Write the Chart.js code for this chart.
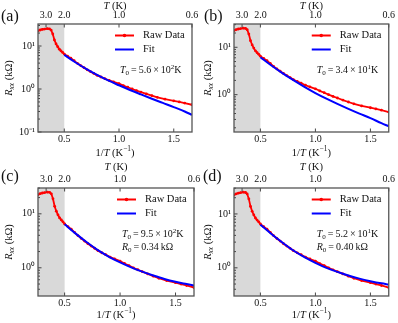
<!DOCTYPE html>
<html><head><meta charset="utf-8">
<script src="https://cdn.jsdelivr.net/npm/chart.js@4.4.1/dist/chart.umd.min.js"></script>
<style>
html,body{margin:0;padding:0;background:#fff;}
#wrap{position:relative;width:398px;height:323px;overflow:hidden;background:#fff;}
canvas{position:absolute;}
</style></head><body>
<div id="wrap">
<canvas id="ca" width="210" height="161" style="left:0;top:0"></canvas>
<canvas id="cc" width="210" height="162" style="left:0;top:161px"></canvas>
<canvas id="cb" width="199" height="161" style="left:199px;top:0"></canvas>
<canvas id="cd" width="199" height="162" style="left:199px;top:161px"></canvas>
</div>
<script>
// ---- data (1/T in K^-1, R_xx in kOhm) ----
const invT = [0.26,0.28,0.30,0.32,0.345,0.365,0.38,0.395,0.41,0.425,0.44,0.455,0.47,0.485,0.50,
  0.53,0.56,0.59,0.62,0.65,0.68,0.71,0.74,0.77,0.80,0.835,0.87,0.91,0.95,1.0,1.04,1.08,1.12,1.16,
  1.2,1.25,1.3,1.35,1.42,1.5,1.55,1.6,1.667];
const rawR = [22.5,23.6,24.3,24.8,25.3,25.0,23.5,19.0,13.8,11.2,9.6,8.4,7.7,7.1,6.5,
  5.8,5.2,4.55,3.95,3.5,3.13,2.8,2.53,2.3,2.08,1.9,1.75,1.58,1.46,1.33,1.2,1.1,1.0,0.92,
  0.85,0.77,0.7,0.64,0.58,0.53,0.5,0.47,0.43];
const fitInvT = [0.5,0.6,0.7,0.8,0.9,1.0,1.1,1.2,1.3,1.4,1.5,1.6,1.667];
const fitA = [6.2,4.19,2.93,2.12,1.58,1.22,0.95,0.75,0.595,0.475,0.38,0.3,0.25];
const fitB = [6.17,4.12,2.85,2.02,1.46,1.08,0.822,0.638,0.501,0.398,0.32,0.25,0.215];
const fitC = [6.4,4.3,2.98,2.12,1.6,1.26,1.02,0.85,0.72,0.62,0.55,0.5,0.47];
const fitD = [6.3,4.25,2.95,2.1,1.58,1.24,1.0,0.84,0.72,0.63,0.565,0.515,0.49];
const xTicks = [0.5,1.0,1.5];
const topTicksT = [3.0,2.0,1.0,0.6];
const yMajor = [0.1,1,10];
const yMajorLabels = ['10\u207B\u00B9','10\u2070','10\u00B9'];
const shadeEnd = 0.5;
const xMin = 0.26, xMax = 1/0.6;

const FONT = '"Liberation Serif", "Times New Roman", serif';
function drawRich(ctx, segs, x, y, size, align, rot){
  ctx.save(); ctx.translate(x,y); if(rot) ctx.rotate(rot);
  let w=0;
  const parts = segs.map(s=>{
    const sz = (s.sub||s.sup)? size*0.7 : size;
    const f = (s.i?'italic ':'')+sz+'px '+FONT;
    ctx.font=f; const mw=ctx.measureText(s.t).width; w+=mw;
    return {s,f,mw,dy: s.sub? size*0.28 : (s.sup? -size*0.38 : 0)};
  });
  let cx = align==='center'? -w/2 : (align==='right'? -w : 0);
  ctx.textBaseline='middle'; ctx.textAlign='left'; ctx.fillStyle='#111';
  for(const p of parts){ ctx.font=p.f; ctx.fillText(p.s.t,cx,p.dy); cx+=p.mw; }
  ctx.restore();
}
const T0seg = v=>[{t:'T',i:1},{t:'0',sub:1},{t:'\u2009=\u2009'+v.m+'\u2009\u00D7\u200910'},{t:v.e,sup:1},{t:'K'}];
const R0seg = v=>[{t:'R',i:1},{t:'0',sub:1},{t:'\u2009=\u2009'+v+'\u2009k\u03A9'}];

const panels = [
  {id:'ca', tag:'(a)', tagX:1, tagY:17, fit:fitA, yMin:0.1, yMax:32.5, leftW:38, padR:18, topH:24, botH:29,
   notes:[T0seg({m:'5.6',e:'2'})]},
  {id:'cb', tag:'(b)', tagX:5, tagY:17, fit:fitB, yMin:0.163, yMax:31, leftW:35, padR:7, topH:24, botH:29,
   notes:[T0seg({m:'3.4',e:'1'})]},
  {id:'cc', tag:'(c)', tagX:1, tagY:16, fit:fitC, yMin:0.309, yMax:30.1, leftW:38, padR:16, topH:27, botH:27,
   notes:[T0seg({m:'9.5',e:'2'}), R0seg('0.34')]},
  {id:'cd', tag:'(d)', tagX:4, tagY:16, fit:fitD, yMin:0.32, yMax:30.3, leftW:35, padR:7, topH:27, botH:27,
   notes:[T0seg({m:'5.2',e:'1'}), R0seg('0.40')]}
];

function decoPlugin(p){return {
  id:'deco',
  beforeDatasetsDraw(chart){
    const {ctx, chartArea:a, scales:{x}} = chart;
    ctx.save(); ctx.fillStyle='#d9d9d9';
    const xe = x.getPixelForValue(shadeEnd);
    ctx.fillRect(a.left, a.top, xe-a.left, a.bottom-a.top);
    ctx.restore();
  },
  afterDatasetsDraw(chart){
    const {ctx, chartArea:a, scales:{x,x2,y}} = chart;
    ctx.save(); ctx.strokeStyle='#333'; ctx.lineWidth=0.9;
    ctx.beginPath();
    y.ticks.forEach(t=>{
      const py=y.getPixelForValue(t.value);
      const len = yMajor.some(m=>Math.abs(m-t.value)/m<1e-6)? 3.5 : 2;
      ctx.moveTo(a.left, py); ctx.lineTo(a.left+len, py);
    });
    x.ticks.forEach(t=>{const px=x.getPixelForValue(t.value); ctx.moveTo(px,a.bottom); ctx.lineTo(px,a.bottom-3.5);});
    x2.ticks.forEach(t=>{const px=x2.getPixelForValue(t.value); ctx.moveTo(px,a.top); ctx.lineTo(px,a.top+3.5);});
    ctx.stroke();
    ctx.strokeStyle='#555'; ctx.lineWidth=1.3;
    ctx.strokeRect(a.left, a.top, a.right-a.left, a.bottom-a.top);
    ctx.restore();
  },
  afterDraw(chart){
    const {ctx, chartArea:a} = chart;
    const H = chart.height;
    ctx.save();
    const ds = chart.data.datasets;
    const raw = ds[1], fit = ds[0];
    const lx0=a.right-77, lx1=a.right-58, tx=a.right-49;
    const y1=a.top+11.5, y2=a.top+25.5;
    ctx.lineWidth=2; ctx.strokeStyle=raw.borderColor;
    ctx.beginPath(); ctx.moveTo(lx0,y1); ctx.lineTo(lx1,y1); ctx.stroke();
    ctx.fillStyle=raw.borderColor; ctx.beginPath(); ctx.arc((lx0+lx1)/2,y1,1.8,0,Math.PI*2); ctx.fill();
    ctx.strokeStyle=fit.borderColor; ctx.beginPath(); ctx.moveTo(lx0,y2); ctx.lineTo(lx1,y2); ctx.stroke();
    drawRich(ctx,[{t:raw.label}],tx,y1,10.5,'left');
    drawRich(ctx,[{t:fit.label}],tx,y2,10.5,'left');
    p.notes.forEach((n,i)=>drawRich(ctx,n,a.right-72,a.top+46.5+i*13.3,10,'left'));
    const cxm=(a.left+a.right)/2;
    drawRich(ctx,[{t:'T',i:1},{t:' (K)'}],cxm,6,10.5,'center');
    drawRich(ctx,[{t:'1/'},{t:'T',i:1},{t:' (K'},{t:'\u22121',sup:1},{t:')'}],cxm,H-8,10.5,'center');
    drawRich(ctx,[{t:'R',i:1},{t:'xx',i:1,sub:1},{t:' (k\u03A9)'}],9,(a.top+a.bottom)/2,10.5,'center',-Math.PI/2);
    drawRich(ctx,[{t:p.tag}],p.tagX,p.tagY,16,'left');
    ctx.restore();
  }
};}

const tickFont = {family:'Liberation Serif', size:10};
const noGrid = {display:false, drawTicks:false, tickLength:0};
panels.forEach(p=>{
  new Chart(document.getElementById(p.id),{
    type:'line',
    data:{datasets:[
      {label:'Fit', data: fitInvT.map((v,i)=>({x:v,y:p.fit[i]})), borderColor:'#0000ff', borderWidth:2,
       pointRadius:0, cubicInterpolationMode:'monotone', fill:false},
      {label:'Raw Data', data: invT.map((v,i)=>({x:v,y:rawR[i]})), borderColor:'#ff0000', backgroundColor:'#ff0000',
       borderWidth:1.8, pointRadius:1.4, pointBorderWidth:0, tension:0, fill:false}
    ]},
    options:{
      responsive:false, animation:false, events:[],
      layout:{padding:{left:0,right:p.padR,top:0,bottom:0}},
      plugins:{legend:{display:false}, tooltip:{enabled:false}},
      scales:{
        x:{type:'linear', position:'bottom', min:xMin, max:xMax,
           grid:noGrid, border:{display:false},
           afterBuildTicks:s=>{s.ticks=xTicks.map(v=>({value:v}));},
           afterFit:s=>{s.height=p.botH;},
           ticks:{autoSkip:false, maxRotation:0, padding:1, font:tickFont, color:'#111', callback:v=>Number(v).toFixed(1)}},
        x2:{type:'linear', position:'top', min:xMin, max:xMax,
           grid:noGrid, border:{display:false},
           afterBuildTicks:s=>{s.ticks=topTicksT.map(t=>({value:1/t}));},
           afterFit:s=>{s.height=p.topH;},
           ticks:{autoSkip:false, maxRotation:0, padding:3, font:tickFont, color:'#111', callback:(v,i)=>topTicksT[i].toFixed(1)}},
        y:{type:'logarithmic', position:'left', min:p.yMin, max:p.yMax,
           grid:noGrid, border:{display:false},
           afterBuildTicks:s=>{
             const out=[];
             for(let d=Math.floor(Math.log10(p.yMin)); d<=Math.ceil(Math.log10(p.yMax)); d++){
               for(let m=1;m<=9;m++){ const v=m*Math.pow(10,d); if(v>=p.yMin*0.9999 && v<=p.yMax) out.push({value:v}); }
             }
             s.ticks=out;
           },
           afterFit:s=>{s.width=p.leftW;},
           ticks:{autoSkip:false, padding:3, font:tickFont, color:'#111',
             callback:v=>{const k=yMajor.findIndex(m=>Math.abs(m-v)/m<1e-6); return k>=0? yMajorLabels[k] : '';}}}
      }
    },
    plugins:[decoPlugin(p)]
  });
});
</script>
</body></html>
